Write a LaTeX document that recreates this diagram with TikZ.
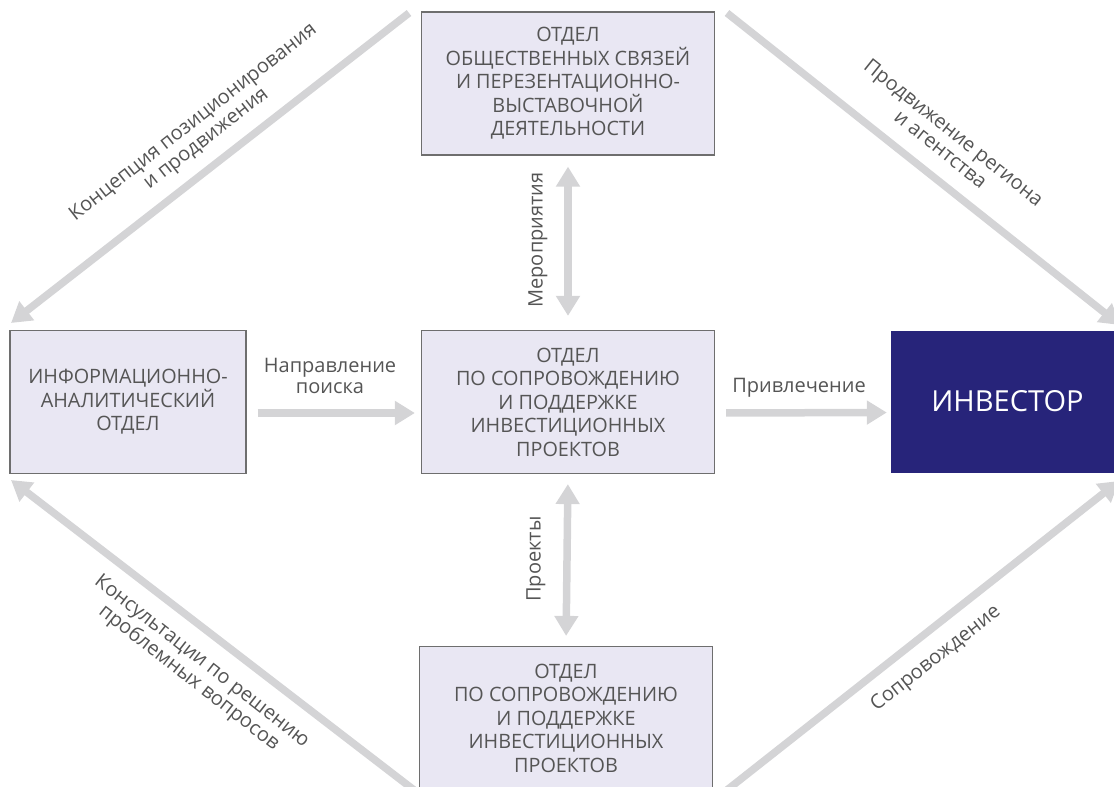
\documentclass[tikz,border=0pt]{standalone}
\usepackage{fontspec}
\setmainfont{Open Sans}
\usetikzlibrary{arrows.meta}
\definecolor{boxfill}{HTML}{E9E7F3}
\definecolor{boxline}{HTML}{6E6E6E}
\definecolor{invfill}{HTML}{27247A}
\definecolor{flowgray}{HTML}{D4D4D6}
\definecolor{txtgray}{HTML}{555555}
\tikzset{
  dept/.style={draw=boxline, line width=1.2pt, fill=boxfill, text=txtgray,
    minimum width=293pt, minimum height=143pt, inner sep=0pt, align=center,
    font=\fontsize{19.8}{23.5}\selectfont},
  flow/.style={draw=flowgray, line width=7.5pt,
    -{Triangle[width=23pt,length=20pt]}},
  flow2/.style={flow,
    {Triangle[width=23pt,length=20pt]}-{Triangle[width=23pt,length=20pt]}},
  lbl/.style={text=txtgray, align=center, inner sep=0pt,
    font=\fontsize{20}{21}\selectfont}
}
\begin{document}
\begin{tikzpicture}[x=1pt,y=-1pt]
  \useasboundingbox (0,0) rectangle (1114,787);

  \node[dept] (pr) at (568,83.5)
    {ОТДЕЛ\\ОБЩЕСТВЕННЫХ СВЯЗЕЙ\\И ПЕРЕЗЕНТАЦИОННО-\\ВЫСТАВОЧНОЙ\\ДЕЯТЕЛЬНОСТИ};
  \node[dept] (sup) at (568,402)
    {ОТДЕЛ\\ПО СОПРОВОЖДЕНИЮ\\И ПОДДЕРЖКЕ\\ИНВЕСТИЦИОННЫХ\\ПРОЕКТОВ};
  \node[dept] (proj) at (566,718)
    {ОТДЕЛ\\ПО СОПРОВОЖДЕНИЮ\\И ПОДДЕРЖКЕ\\ИНВЕСТИЦИОННЫХ\\ПРОЕКТОВ};
  \node[dept, minimum width=236pt] (info) at (128,402)
    {ИНФОРМАЦИОННО-\\АНАЛИТИЧЕСКИЙ\\ОТДЕЛ};
  \node[fill=invfill, minimum width=233pt, minimum height=142pt, inner sep=0pt,
    text=white, font=\fontsize{29}{34}\selectfont] (inv) at (1007.5,401.5) {ИНВЕСТОР};

  \coordinate (tlA) at (409,13);
  \coordinate (tlB) at (11,323);
  \coordinate (trA) at (727,13);
  \coordinate (trB) at (1120,325);
  \coordinate (blA) at (414,790);
  \coordinate (blB) at (11,480);
  \coordinate (brA) at (727,790);
  \coordinate (brB) at (1119,481);

  \draw[flow] (tlA) -- (tlB);
  \draw[flow] (trA) -- (trB);
  \draw[flow] (blA) -- (blB);
  \draw[flow] (brA) -- (brB);

  \draw[flow, shorten <=11pt, shorten >=6pt] ([yshift=-11pt]info.east) -- ([yshift=-11pt]sup.west);
  \draw[flow, shorten <=11pt, shorten >=4pt] ([yshift=-11pt]sup.east) -- ([yshift=-11pt]inv.west);
  \draw[flow2, shorten <=11pt, shorten >=14pt] (pr.south) -- (sup.north);
  \draw[flow2, shorten <=10pt, shorten >=10pt] (sup.south) -- (proj.north);

  \node[lbl] (lsearch) at (330,376) {Направление\\поиска};
  \node[lbl] (lattract) at (799,388) {Привлечение};
  \node[lbl, rotate=90] (levents) at (538,240) {Мероприятия};
  \node[lbl, rotate=90] (lprojects) at (536,559) {Проекты};
  \node[lbl, rotate=38] (lconcept) at (200,131)
    {Концепция позиционирования\\и продвижения};
  \node[lbl, rotate=-38.5] (lpromo) at (947.5,140.5)
    {Продвижение региона\\и агентства};
  \node[lbl, rotate=-38] (lconsult) at (195,670)
    {Консультации по решению\\проблемных вопросов};
  \node[lbl, rotate=38] (lsupport) at (936,659) {Сопровождение};
\end{tikzpicture}
\end{document}
